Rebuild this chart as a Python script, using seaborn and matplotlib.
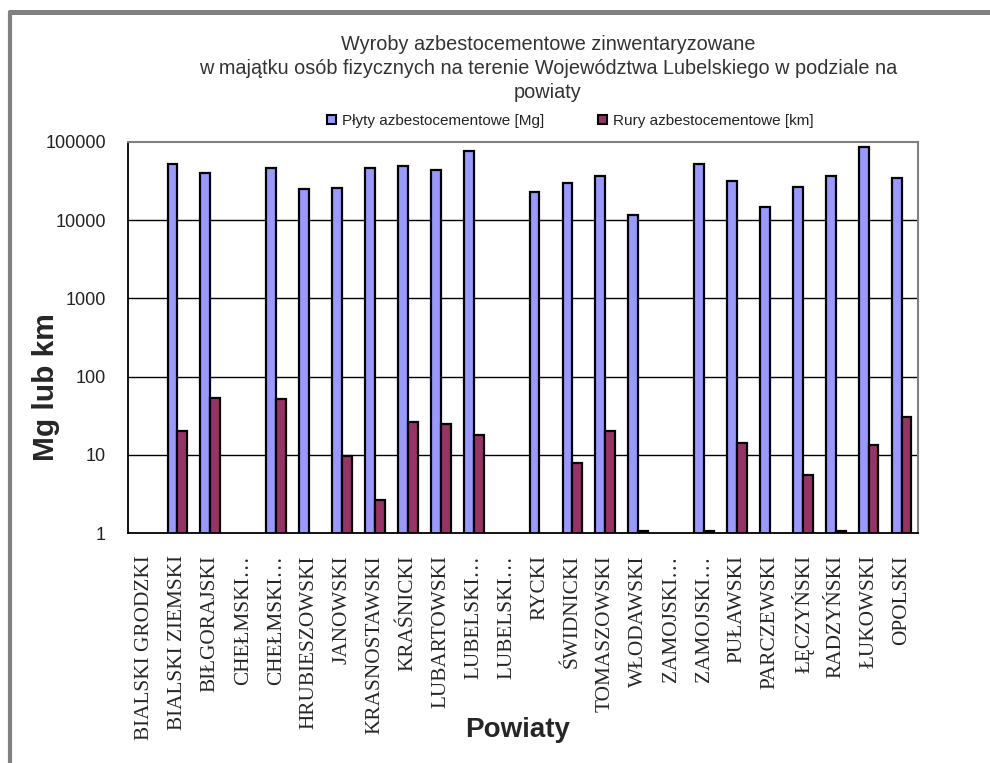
import numpy as np
import pandas as pd
import matplotlib
matplotlib.use("Agg")
import matplotlib.pyplot as plt
from matplotlib.patches import Patch
from matplotlib.lines import Line2D
from matplotlib.ticker import FixedLocator, FixedFormatter, NullLocator
import seaborn as sns

powiaty = ["BIALSKI GRODZKI", "BIALSKI ZIEMSKI", "BIŁGORAJSKI", "CHEŁMSKI…", "CHEŁMSKI…",
           "HRUBIESZOWSKI", "JANOWSKI", "KRASNOSTAWSKI", "KRAŚNICKI", "LUBARTOWSKI",
           "LUBELSKI…", "LUBELSKI…", "RYCKI", "ŚWIDNICKI", "TOMASZOWSKI", "WŁODAWSKI",
           "ZAMOJSKI…", "ZAMOJSKI…", "PUŁAWSKI", "PARCZEWSKI", "ŁĘCZYŃSKI", "RADZYŃSKI",
           "ŁUKOWSKI", "OPOLSKI"]
# plyty azbestocementowe [Mg], None = brak danych
plyty = [None, 52000, 40000, None, 46000, 25200, 26000, 46000, 50000, 44000,
         77000, None, 23000, 29500, 36600, 11700, None, 53000, 31400, 14700,
         26800, 36600, 87000, 35000]
# rury azbestocementowe [km]
rury = [None, 20, 53, None, 51, None, 9.7, 2.65, 26, 25,
        18, None, None, 7.9, 20, 1.05, None, 1.05, 14, None,
        5.5, 1.05, 13.4, 30]
serie = ["Płyty azbestocementowe [Mg]", "Rury azbestocementowe [km]"]
kolory = ["#9999FF", "#993366"]
yticks = [1, 10, 100, 1000, 10000, 100000]

# unikalne klucze kategorii (niektore etykiety sie powtarzaja)
klucze = [f"{i}" for i in range(len(powiaty))]
rows = []
for i, k in enumerate(klucze):
    if plyty[i] is not None:
        rows.append((k, serie[0], plyty[i]))
    if rury[i] is not None:
        rows.append((k, serie[1], rury[i]))
df = pd.DataFrame(rows, columns=["powiat", "seria", "wartosc"])

sns.set_style("white")
plt.rcParams['font.family'] = ['Liberation Sans', 'DejaVu Sans']

fig = plt.figure(figsize=(9.9, 7.63), dpi=100)
ax = fig.add_axes([128/990, 1-533/763, 790/990, 391/763])

sns.barplot(data=df, x="powiat", y="wartosc", hue="seria", order=klucze, hue_order=serie,
            palette=kolory, width=0.6, edgecolor="black", linewidth=1.6,
            errorbar=None, saturation=1, ax=ax)
ax.set_yscale("log")
ax.set_ylim(1, 100000)
ax.set_xlim(-0.5, len(powiaty) - 0.5)
ax.yaxis.set_major_locator(FixedLocator(yticks))
ax.yaxis.set_major_formatter(FixedFormatter([str(v) for v in yticks]))
ax.yaxis.set_minor_locator(NullLocator())
for v in yticks[1:-1]:
    ax.axhline(v, color="black", lw=1.0, zorder=0.5)

# ticks miedzy kategoriami, etykiety na srodku
ax.set_xticks(np.arange(len(powiaty)))
ax.set_xticklabels(powiaty, rotation=90, fontsize=15.3, family="Liberation Serif",
                   va="top", ha="center")
ax.xaxis.set_minor_locator(FixedLocator(np.arange(-0.5, len(powiaty), 1)))
ax.tick_params(axis="x", which="major", length=0, pad=16)
ax.tick_params(axis="x", which="minor", length=5, width=1.2, color="black", direction="out")
ax.tick_params(axis="y", which="major", length=6, width=1.2, color="black", direction="out",
               labelsize=13, labelcolor="#222222", pad=10)

for s in ["left", "bottom"]:
    ax.spines[s].set_color("black")
    ax.spines[s].set_linewidth(1.3)
for s in ["top", "right"]:
    ax.spines[s].set_color("#808080")
    ax.spines[s].set_linewidth(1.5)

ax.set_xlabel("")
ax.set_ylabel("")
ax.get_legend().remove()
fig.text(46/990, 1-387/763, "Mg lub km", rotation=90, fontsize=21.5, fontweight="bold",
         ha="center", va="center")
fig.text(518/990, 1-730/763, "Powiaty", fontsize=20, fontweight="bold",
         ha="center", va="center")

tytul = ["Wyroby azbestocementowe zinwentaryzowane",
         "w majątku osób fizycznych na terenie Województwa Lubelskiego w podziale na",
         "powiaty"]
for j, t in enumerate(tytul):
    fig.text(548/990, 1-(45 + j*24)/763, t, fontsize=14.3, color="#333333",
             ha="center", va="center")

uchwyty = [Patch(facecolor=c, edgecolor="black", linewidth=1.5) for c in kolory]
fig.legend(uchwyty, serie, loc="center", bbox_to_anchor=(570/990, 1-121/763), ncol=2,
           frameon=False, fontsize=11, handlelength=0.6, handleheight=0.6,
           handletextpad=0.4, columnspacing=3.5, labelcolor="#222222")

# szara ramka wykresu
fig.add_artist(Line2D([10/990, 1], [1-12/763, 1-12/763], color="#808080", lw=3.6,
                      transform=fig.transFigure))
fig.add_artist(Line2D([10/990, 10/990], [0, 1-12/763], color="#808080", lw=3.0,
                      transform=fig.transFigure))

fig.savefig("out.png", dpi=100)
